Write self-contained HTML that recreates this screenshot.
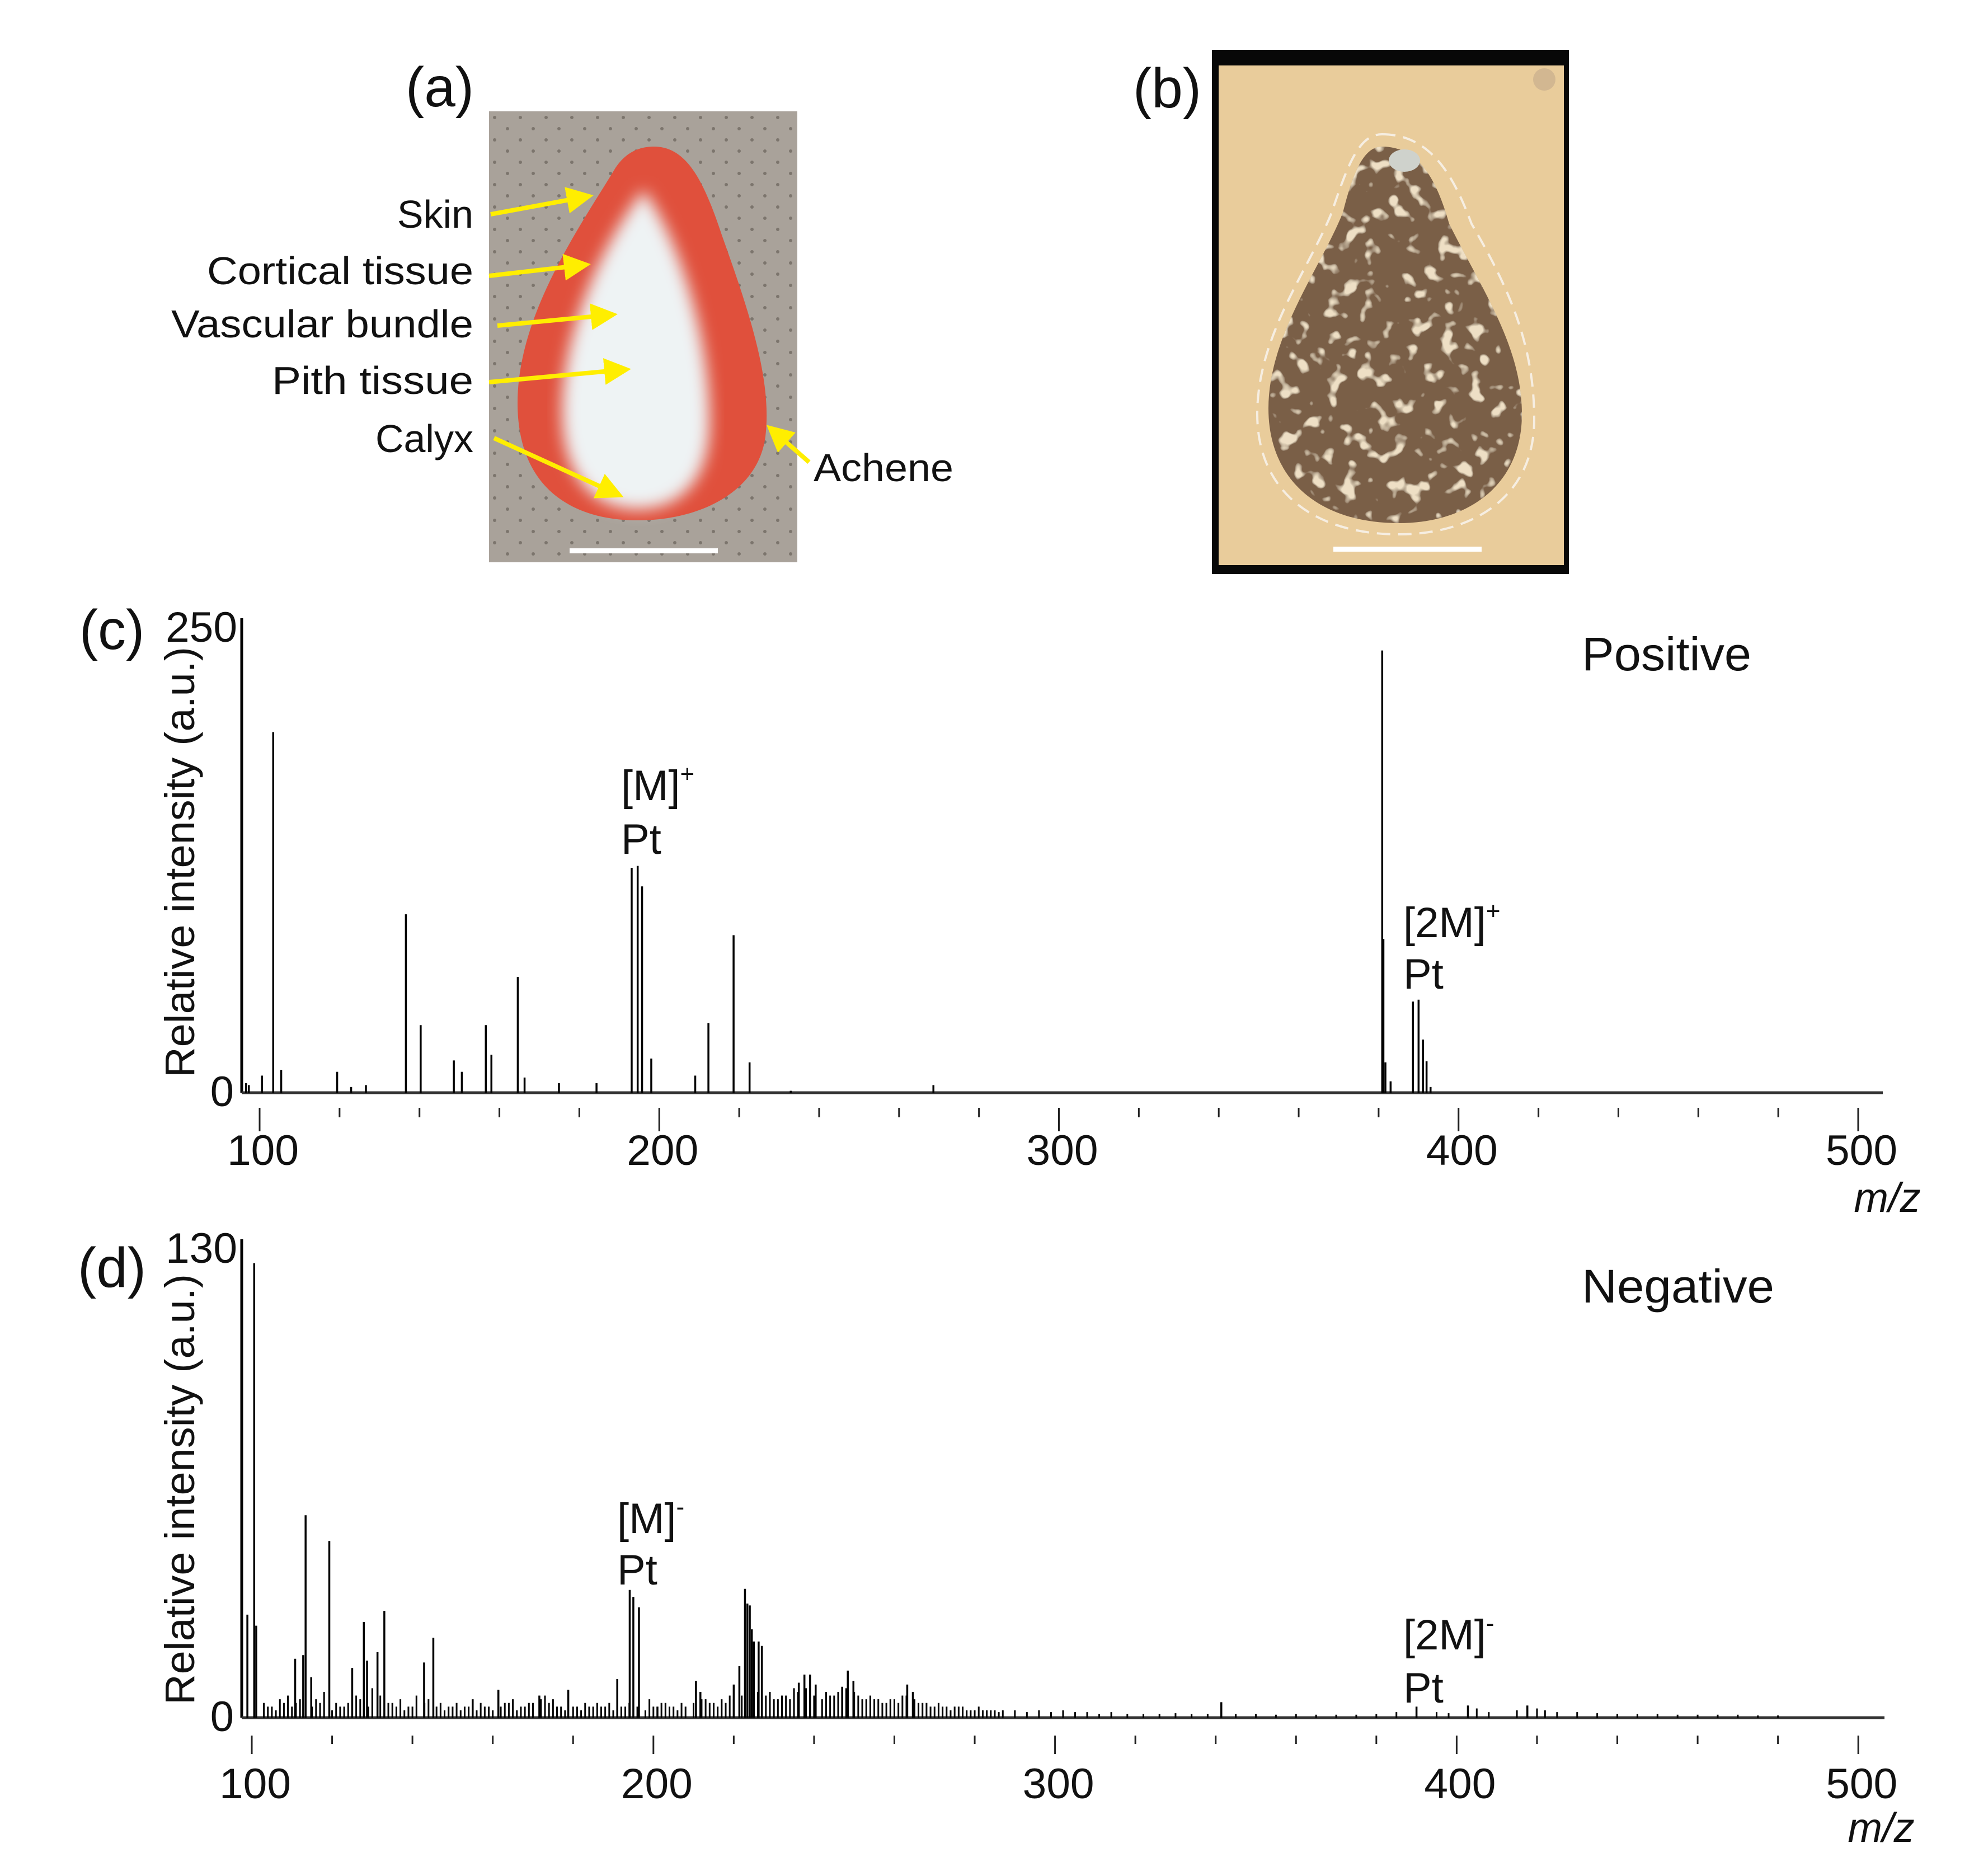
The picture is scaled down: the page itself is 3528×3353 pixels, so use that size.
<!DOCTYPE html>
<html><head><meta charset="utf-8"><style>
html,body{margin:0;padding:0;background:#fff;}
svg{display:block;}
text{font-family:"Liberation Sans",sans-serif;fill:#111;}
</style></head><body>
<svg id="fig" width="3528" height="3353" viewBox="0 0 3528 3353" xmlns="http://www.w3.org/2000/svg">
<defs>
 <filter id="blur8"><feGaussianBlur stdDeviation="14"/></filter>
 <filter id="mottle" x="0" y="0" width="100%" height="100%">
  <feTurbulence type="fractalNoise" baseFrequency="0.035" numOctaves="2" seed="4" result="n"/>
  <feColorMatrix in="n" type="matrix" values="0 0 0 0 0.85  0 0 0 0 0.74  0 0 0 0 0.56  0 0 0 9 -5.2" result="spots"/>
  <feComposite in="spots" in2="SourceGraphic" operator="in" result="s2"/>
  <feMerge><feMergeNode in="SourceGraphic"/><feMergeNode in="s2"/></feMerge>
 </filter>
 <pattern id="dots" width="46" height="40" patternUnits="userSpaceOnUse">
  <rect width="46" height="40" fill="#a9a29a"/>
  <circle cx="10" cy="10" r="3" fill="#7c756d"/><circle cx="33" cy="30" r="3" fill="#7c756d"/>
 </pattern>
 <marker id="ah" markerWidth="6" markerHeight="6" refX="4" refY="3" orient="auto" markerUnits="strokeWidth">
  <path d="M0,0 L6,3 L0,6 Z" fill="#ffee00"/>
 </marker>
</defs>

<g>
 <text x="786" y="190" font-size="100" text-anchor="middle">(a)</text>
 <rect x="874" y="199" width="551" height="806" fill="url(#dots)"/>
 <path d="M1169,262 C1230,262 1260,330 1290,420 C1340,560 1380,680 1368,780 C1355,880 1250,930 1140,930 C1020,930 925,870 925,720 C925,560 1040,400 1100,300 C1120,270 1145,262 1169,262 Z" fill="#e0503c"/>
 <path d="M1150,340 C1210,420 1270,600 1268,760 C1266,870 1205,910 1140,910 C1060,910 1000,850 1005,720 C1010,580 1080,430 1150,340 Z" fill="#eef3f4" filter="url(#blur8)"/>
 <rect x="1018" y="980" width="265" height="9" fill="#fff"/>
 <g stroke="#ffee00" stroke-width="8" marker-end="url(#ah)">
  <line x1="877" y1="383" x2="1045" y2="352"/>
  <line x1="874" y1="493" x2="1040" y2="474"/>
  <line x1="889" y1="582" x2="1088" y2="563"/>
  <line x1="874" y1="683" x2="1112" y2="661"/>
  <line x1="883" y1="783" x2="1100" y2="882"/>
  <line x1="1446" y1="826" x2="1382" y2="770"/>
 </g>
 <g font-size="70" text-anchor="end">
  <text x="846" y="407">Skin</text>
  <text x="846" y="508" textLength="476" lengthAdjust="spacingAndGlyphs">Cortical tissue</text>
  <text x="846" y="603" textLength="540" lengthAdjust="spacingAndGlyphs">Vascular bundle</text>
  <text x="846" y="704" textLength="360" lengthAdjust="spacingAndGlyphs">Pith tissue</text>
  <text x="846" y="808">Calyx</text>
 </g>
 <text x="1454" y="860" font-size="70" textLength="250" lengthAdjust="spacingAndGlyphs">Achene</text>
</g>

<g>
 <text x="2086" y="192" font-size="100" text-anchor="middle">(b)</text>
 <rect x="2166" y="89" width="638" height="937" fill="#080808"/>
 <rect x="2178" y="117" width="617" height="893" fill="#e9cc9b"/>
 <circle cx="2760" cy="142" r="20" fill="#d2b791"/>
 <path d="M2470,240 C2560,240 2600,320 2630,400 C2700,520 2742,620 2742,750 C2742,890 2630,955 2500,955 C2350,955 2247,880 2247,740 C2247,600 2340,480 2380,380 C2410,290 2430,240 2470,240 Z" fill="none" stroke="#f6eee2" stroke-width="4" stroke-dasharray="24 14"/>
 <path d="M2470,262 C2540,262 2570,330 2590,400 C2650,520 2720,620 2720,740 C2720,870 2620,935 2500,935 C2360,935 2267,860 2267,730 C2267,600 2360,480 2400,380 C2420,300 2440,262 2470,262 Z" fill="#7a5e46" filter="url(#mottle)"/>
 <ellipse cx="2510" cy="287" rx="28" ry="20" fill="#cfd2cc"/>
 <rect x="2383" y="977" width="265" height="9" fill="#fff"/>
</g>

<g id="chartC"></g>
<g id="chartD"></g>
</svg>
<script>
var posMz = [96.6,97.3,100.6,103.4,105.4,119.4,122.9,126.6,136.6,140.3,148.6,150.6,156.6,158,164.6,166.3,174.9,184.3,193.1,194.6,195.7,198,209,212.3,218.6,222.6,232.9,268.6,380.9,381.2,381.7,383,388.6,390,391.1,392,393];
var posVal = [5,4,9,190,12,11,3,4,94,35.6,17,11,35.6,20,61,8,5,5,118.5,119.5,108.7,18,9,36.7,83,16,1,4,233,81,16,6,48,49,28,16.6,3];
var negMz = [98.9,100.6,101.1,110.8,112.8,113.4,114.8,119.3,125,127.9,128.7,131.3,133,142.9,145.2,155,161.4,171.6,178.8,191,194.1,195,196.4,201,210.6,211.7,220,221.4,222.8,223.4,224,224.5,225,226.2,227,236.2,237.6,239,240.4,247,248.4,249.8,263.2,264.6,341.4,390,402.8,417.6];
var negVal = [28,123.5,25,16,17,55,11,48,13.5,26,15.5,17.8,29,15,21.7,5,7.6,6,7.6,10.5,34.7,32.8,30,3,10,7,9,14,35,31,30.5,24,20.7,20.7,19.5,9.5,11.7,11.7,9,8.4,12.8,10,9,7,4.2,3,3.3,3.3];
var negNoiseMz = [103,105,107,109,111,116,118,121,123,126, 130,135,137,139,141,144,147,149,151,153, 157,159,163,165,167,169,173,175,177,181, 183,185,187,189,193,199,203,205,207,213, 215,217,219,229,231,233,235,243,245,252, 254,256,258,260,262,267,269,271,273,275, 277,279,281,283,285,287,290,293,296,299, 302,305,308,311,314,318,322,326,330,334, 338,345,350,355,360,365,370,375,380,385, 395,398,405,408,415,420,422,425,430,435, 440,445,450,455,460,465,470,475,480];
var negNoiseVal = [4,3,5,6,4,5,7,4,3,6, 8,4,5,3,6,5,4,3,4,3, 4,3,4,5,3,4,6,5,3,3, 4,3,3,4,3,5,4,3,4,5, 4,5,6,7,5,6,8,7,6,5, 6,5,4,5,6,4,3,4,3,3, 3,2,3,2,2,2,2,1.5,2,1.5, 2,1.5,1.5,1,1.5,1,1,1,1.2,1, 1,1,1,0.8,1,0.8,0.8,0.8,1,1.5, 1.5,1.2,2.5,1.5,2,2.5,2,1.5,1.5,1.2, 1,1,1,0.8,0.8,0.8,0.8,0.6,0.6];
var negFineMz = [104,106,108,110,112,115,117,120,122,124, 127,129,132,134,136,138,140,143,146,148, 150,152,154,156,158,160,162,164,166,168, 170,172,174,176,178,180,182,184,186,188, 190,192,194,196,198,200,202,204,206,208, 210,212,214,216,218,220,222,224,226,228, 230,232,234,236,238,240,242,244,246,248, 250,251,253,255,257,259,261,263,265,266, 268,270,272,274,276,278,280,282,284,286];
var negFineVal = [3,2,4,3,5,3,4,2,3,4, 5,3,6,4,3,2,3,4,3,2, 3,2,3,2,3,2,3,4,2,3, 4,5,4,3,2,3,2,3,4,3, 2,3,4,3,2,3,4,3,2,3, 4,5,4,3,4,5,6,5,7,6, 5,6,5,7,8,6,5,6,7,8, 7,6,5,5,4,5,4,6,5,4, 4,3,3,2,3,2,2,2,2,1.5];
var xTicks = [100,120,140,160,180,200,220,240,260,280,300,320,340,360,380,400,420,440,460,480,500];
var xTickLabels = ["100","200","300","400","500"];
var posYTicks = ["0","250"];
var negYTicks = ["0","130"];

var NS = "http://www.w3.org/2000/svg";
function el(parent, tag, attrs){ var e=document.createElementNS(NS,tag); for(var k in attrs){e.setAttribute(k,attrs[k]);} parent.appendChild(e); return e; }

function drawChart(g, cfg){
  var xs = function(mz){ return cfg.x0 + (mz-100)*cfg.kx; };
  var ys = function(v){ return cfg.base - v*(cfg.base-cfg.top)/cfg.ymax; };
  var t;
  t = el(g,'text',{x:cfg.panelX,y:cfg.panelY,'font-size':100,'text-anchor':'middle'}); t.textContent=cfg.panel;
  
  
  t = el(g,'text',{x:0,y:0,'font-size':74,'text-anchor':'middle',textLength:cfg.ylabLen,lengthAdjust:'spacingAndGlyphs',transform:'translate('+(cfg.axisX-85)+','+cfg.ylabY+') rotate(-90)'});
  t.textContent='Relative intensity (a.u.)';
  
  
  t = el(g,'text',{x:cfg.axisX-8,y:cfg.top+42,'font-size':76,'text-anchor':'end',textLength:128,lengthAdjust:'spacingAndGlyphs'}); t.textContent=cfg.yTicks[1];
  
  
  t = el(g,'text',{x:cfg.axisX-14,y:cfg.base+24,'font-size':76,'text-anchor':'end'}); t.textContent=cfg.yTicks[0];
  
  
  var a = el(g,'line',{x1:cfg.axisX,y1:cfg.top,x2:cfg.axisX,y2:cfg.base,stroke:'#000','stroke-width':5});
  
  
  a = el(g,'line',{x1:cfg.axisX,y1:cfg.base,x2:cfg.xEnd,y2:cfg.base,stroke:'#333','stroke-width':5});
  
  
  xTicks.forEach(function(v){
    var major = (v%100===0);
    var tk = el(g,'line',{x1:xs(v),x2:xs(v),y1:cfg.tickTop,y2:cfg.tickTop+(major?cfg.majLen:cfg.minLen),stroke:'#222','stroke-width':3});
    
    
  });
  xTickLabels.forEach(function(s){
    var tl = el(g,'text',{x:xs(+s)+6,y:cfg.tickLabY,'font-size':76,'text-anchor':'middle',textLength:128,lengthAdjust:'spacingAndGlyphs'}); tl.textContent=s;
    
    
  });
  t = el(g,'text',{x:cfg.mzX,y:cfg.mzY,'font-size':74,'font-style':'italic','text-anchor':'middle'}); t.textContent='m/z';
  
  
  function bars(mzs, vals, w, name){
    for(var i=0;i<mzs.length;i++){
      var b = el(g,'line',{x1:xs(mzs[i]),x2:xs(mzs[i]),y1:cfg.base,y2:ys(vals[i]),stroke:'#000','stroke-width':w});
      
      
    }
  }
  if(cfg.noiseMz) bars(cfg.noiseMz, cfg.noiseVal, 3, 'noise-peak');
  if(cfg.fineMz) bars(cfg.fineMz, cfg.fineVal, 3, 'noise-peak');
  bars(cfg.mz, cfg.val, 3.5, 'peak');
  cfg.texts.forEach(function(tx){
    var e = el(g,'text',{x:tx[0],y:tx[1],'font-size':tx[5]||76}); e.textContent=tx[2];
    if(tx[5]) { e.setAttribute('textLength', tx[6]); e.setAttribute('lengthAdjust','spacingAndGlyphs'); }
    if(tx[3]){ var s=el(e,'tspan',{'font-size':44,dy:-32}); s.textContent=tx[3]; }
    
    
  });
}

drawChart(document.getElementById('chartC'), {
  panel:'(c)', panelX:200, panelY:1160, axisX:432, top:1105, base:1953, ymax:250, x0:464, kx:7.1425, xEnd:3365,
  yTicks:posYTicks, ylabLen:770, ylabY:1541, tickTop:1980, majLen:42, minLen:17, tickLabY:2082, mzX:3373, mzY:2166,
  mz:posMz, val:posVal,
  texts:[[2827,1198,'Positive','', 'mode-label',84,303],[1110,1430,'[M]','+','m-ion-label'],[1110,1526,'Pt','','pt-label-1'],[2508,1675,'[2M]','+','dimer-ion-label'],[2508,1767,'Pt','','pt-label-2']]
});
drawChart(document.getElementById('chartD'), {
  panel:'(d)', panelX:200, panelY:2300, axisX:432, top:2215, base:3070, ymax:130, x0:450, kx:7.178, xEnd:3368,
  yTicks:negYTicks, ylabLen:770, ylabY:2662, tickTop:3102, majLen:33, minLen:15, tickLabY:3214, mzX:3362, mzY:3292,
  mz:negMz, val:negVal, noiseMz:negNoiseMz, noiseVal:negNoiseVal, fineMz:negFineMz, fineVal:negFineVal,
  texts:[[2827,2328,'Negative','', 'mode-label',84,344],[1103,2740,'[M]','-','m-ion-label'],[1103,2832,'Pt','','pt-label-1'],[2508,2948,'[2M]','-','dimer-ion-label'],[2508,3043,'Pt','','pt-label-2']]
});
</script>
</body></html>
